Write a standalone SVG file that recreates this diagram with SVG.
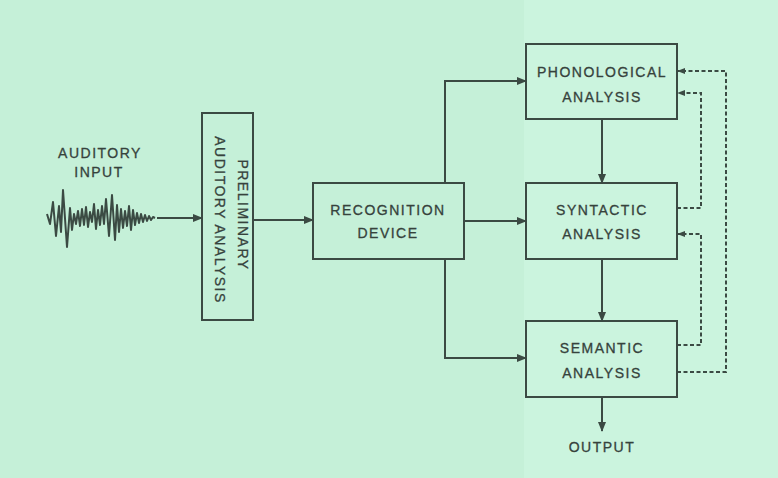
<svg xmlns="http://www.w3.org/2000/svg" width="778" height="478" viewBox="0 0 778 478">
  <defs>
    <marker id="ah" viewBox="0 0 10 10" refX="9" refY="5" markerWidth="10" markerHeight="10" markerUnits="userSpaceOnUse" orient="auto">
      <path d="M0,1 L10,5 L0,9 Z" fill="#3b4a43"/>
    </marker>
    <marker id="ahs" viewBox="0 0 10 10" refX="9" refY="5" markerWidth="8" markerHeight="8" markerUnits="userSpaceOnUse" orient="auto">
      <path d="M0,1 L10,5 L0,9 Z" fill="#3b4a43"/>
    </marker>
  </defs>
  <style>
    .box { fill: none; stroke: #3b4a43; stroke-width: 2; }
    .lbl { font-family: "Liberation Sans", Arial, sans-serif; font-size: 14px; fill: #36423c; text-anchor: middle; letter-spacing: 1.5px; stroke: #36423c; stroke-width: 0.3; }
    .ln { fill: none; stroke: #3b4a43; stroke-width: 2; }
    .dash { fill: none; stroke: #3b4a43; stroke-width: 2; stroke-dasharray: 4 2.5; }
  </style>
  <rect x="0" y="0" width="778" height="478" fill="#c5f0d8"/>
  <rect x="524" y="0" width="254" height="478" fill="#cbf4de"/>

  <g id="auditory-input">
    <text class="lbl" x="100" y="158">AUDITORY</text>
    <text class="lbl" x="99" y="177">INPUT</text>
    <path class="ln" stroke-width="2" stroke-linejoin="round" d="M47,214 L50,224 L53,202 L56,236 L59,206 L61,232 L63,190 L67,247 L70,208 L72,230 L74,214 L76,224 L78,211 L80,226 L82,209 L84,225 L86,207 L88,227 L90,212 L92,222 L94,204 L96,229 L98,210 L100,225 L102,206 L104,224 L106,199 L109,236 L112,195 L115,240 L117,205 L119,232 L121,209 L123,228 L125,211 L127,226 L129,206 L131,230 L133,210 L135,225 L137,213 L139,223 L141,214 L143,222 L145,215 L147,221 L149,216 L151,220 L153,217 L155,218"/>
  </g>

  <g id="preliminary">
    <rect class="box" x="202" y="113" width="51" height="207"/>
    <text class="lbl" transform="translate(238,215) rotate(90)">PRELIMINARY</text>
    <text class="lbl" transform="translate(215,220) rotate(90)">AUDITORY ANALYSIS</text>
  </g>

  <g id="recognition">
    <rect class="box" x="313" y="183" width="151" height="76"/>
    <text class="lbl" x="388" y="215">RECOGNITION</text>
    <text class="lbl" x="388" y="238">DEVICE</text>
  </g>

  <g id="phonological">
    <rect class="box" x="526" y="44" width="151" height="75"/>
    <text class="lbl" x="602" y="77">PHONOLOGICAL</text>
    <text class="lbl" x="602" y="102">ANALYSIS</text>
  </g>

  <g id="syntactic">
    <rect class="box" x="526" y="183" width="151" height="76"/>
    <text class="lbl" x="602" y="215">SYNTACTIC</text>
    <text class="lbl" x="602" y="239">ANALYSIS</text>
  </g>

  <g id="semantic">
    <rect class="box" x="526" y="321" width="151" height="76"/>
    <text class="lbl" x="602" y="353">SEMANTIC</text>
    <text class="lbl" x="602" y="378">ANALYSIS</text>
  </g>

  <g id="output">
    <text class="lbl" x="602" y="452">OUTPUT</text>
  </g>

  <g id="connectors">
    <line class="ln" x1="157" y1="218" x2="202" y2="218" marker-end="url(#ah)"/>
    <line class="ln" x1="253" y1="220" x2="313" y2="220" marker-end="url(#ah)"/>
    <line class="ln" x1="464" y1="221" x2="526" y2="221" marker-end="url(#ah)"/>
    <path class="ln" d="M445,183 V81 H526" marker-end="url(#ah)"/>
    <path class="ln" d="M445,259 V358 H526" marker-end="url(#ah)"/>
    <line class="ln" x1="602" y1="119" x2="602" y2="183" marker-end="url(#ah)"/>
    <line class="ln" x1="602" y1="259" x2="602" y2="321" marker-end="url(#ah)"/>
    <line class="ln" x1="602" y1="397" x2="602" y2="431" marker-end="url(#ah)"/>
    <path class="dash" d="M677,372 H726 V71 H678" marker-end="url(#ahs)"/>
    <path class="dash" d="M677,208 H701 V93 H678" marker-end="url(#ahs)"/>
    <path class="dash" d="M677,345 H701 V234 H678" marker-end="url(#ahs)"/>
  </g>
</svg>
